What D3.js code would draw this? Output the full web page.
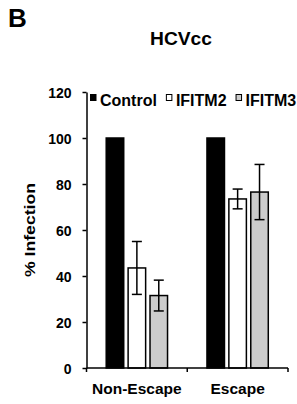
<!DOCTYPE html>
<html lang="en">
<head>
    <meta charset="UTF-8">
    <title>HCVcc infection</title>
    <script src="https://d3js.org/d3.v7.min.js"></script>
    <style>
        html, body { margin: 0; padding: 0; overflow: hidden; background: #fff; }
        svg text { font-family: "Liberation Sans", Arial, sans-serif; font-weight: bold; fill: #000; }
    </style>
</head>
<body>
    <svg id="chart" width="297" height="404"></svg>
    <script>
        // values
        const categories = ["Non-Escape", "Escape"];
        const series = ["Control", "IFITM2", "IFITM3"];
        const colors = ["#000000", "#ffffff", "#cccccc"];
        const means = {
            "Control": [100, 100],
            "IFITM2": [43.5, 73.5],
            "IFITM3": [31.5, 76.5]
        };
        const errors = {
            "Control": [0, 0],
            "IFITM2": [11.5, 4.3],
            "IFITM3": [6.7, 12]
        };
        const yTicks = [0, 20, 40, 60, 80, 100, 120];

        const svg = d3.select("#chart");
        const margin = {top: 92, right: 9, bottom: 36, left: 86.5};
        const width = +svg.attr("width") - margin.left - margin.right,
              height = +svg.attr("height") - margin.top - margin.bottom;
        const g = svg.append("g").attr("transform", `translate(${margin.left},${margin.top})`);

        const x0 = d3.scaleBand().domain(categories).range([0, width]);
        const x1 = d3.scaleBand().domain(series).range([0, x0.bandwidth()])
            .paddingInner(0.2).paddingOuter(0.9);
        const y = d3.scaleLinear().domain([0, 120]).range([height, 0]);

        // panel letter and title
        svg.append("text").attr("x", 8).attr("y", 27).style("font-size", "26px").text("B");
        svg.append("text").attr("x", 181).attr("y", 45).attr("text-anchor", "middle")
            .style("font-size", "18px").attr("textLength", 62).attr("lengthAdjust", "spacingAndGlyphs")
            .text("HCVcc");

        // bars
        series.forEach((s, si) => {
            const grp = g.append("g");
            grp.selectAll("rect").data(categories).enter().append("rect")
                .attr("x", c => x0(c) + x1(s))
                .attr("y", (c, i) => y(means[s][i]))
                .attr("width", x1.bandwidth())
                .attr("height", (c, i) => height - y(means[s][i]))
                .attr("fill", colors[si])
                .attr("stroke", "#000")
                .attr("stroke-width", 1.5);

            categories.forEach((c, i) => {
                const e = errors[s][i];
                if (!e) return;
                const cx = x0(c) + x1(s) + x1.bandwidth() / 2;
                grp.append("line").attr("x1", cx).attr("x2", cx)
                    .attr("y1", y(means[s][i] + e)).attr("y2", y(means[s][i] - e))
                    .attr("stroke", "#000").attr("stroke-width", 1.5);
                [means[s][i] + e, means[s][i] - e].forEach(v => {
                    grp.append("line").attr("x1", cx - 5).attr("x2", cx + 5)
                        .attr("y1", y(v)).attr("y2", y(v))
                        .attr("stroke", "#000").attr("stroke-width", 1.5);
                });
            });
        });

        // y axis
        const yAxis = g.append("g")
            .call(d3.axisLeft(y).tickValues(yTicks).tickSize(4).tickPadding(11).tickSizeOuter(0));
        yAxis.select(".domain").attr("stroke-width", 1.5);
        yAxis.selectAll(".tick line").attr("stroke-width", 1.5);
        yAxis.selectAll("text").style("font-size", "14px").style("font-family", null).attr("dy", "0.36em");

        // x axis: ticks at band edges
        const xAxis = g.append("g").attr("transform", `translate(0,${height})`);
        xAxis.append("line").attr("x1", 0).attr("x2", width).attr("stroke", "#000").attr("stroke-width", 1.5);
        const edges = categories.map(c => x0(c)).concat([width]);
        xAxis.selectAll(".edge").data(edges).enter().append("line")
            .attr("x1", d => d).attr("x2", d => d).attr("y1", 0).attr("y2", 4)
            .attr("stroke", "#000").attr("stroke-width", 1.5);
        xAxis.selectAll(".cat").data(categories).enter().append("text")
            .attr("x", c => x0(c) + x0.bandwidth() / 2)
            .attr("y", 26)
            .attr("text-anchor", "middle")
            .style("font-size", "15.5px")
            .text(c => c);

        // y label
        svg.append("text")
            .attr("transform", "translate(35,230) rotate(-90)")
            .attr("text-anchor", "middle")
            .style("font-size", "15px")
            .attr("textLength", 94).attr("lengthAdjust", "spacingAndGlyphs")
            .text("% Infection");

        // legend
        let lx = 90;
        series.forEach((s, si) => {
            svg.append("rect").attr("x", lx + 0.5).attr("y", 94.5).attr("width", 5.5).attr("height", 6)
                .attr("fill", colors[si]).attr("stroke", "#000").attr("stroke-width", 1);
            const t = svg.append("text").attr("x", lx + 10).attr("y", 105.5)
                .style("font-size", "16px").text(s);
            lx += 10 + t.node().getComputedTextLength() + 9;
        });
    </script>
</body>
</html>
